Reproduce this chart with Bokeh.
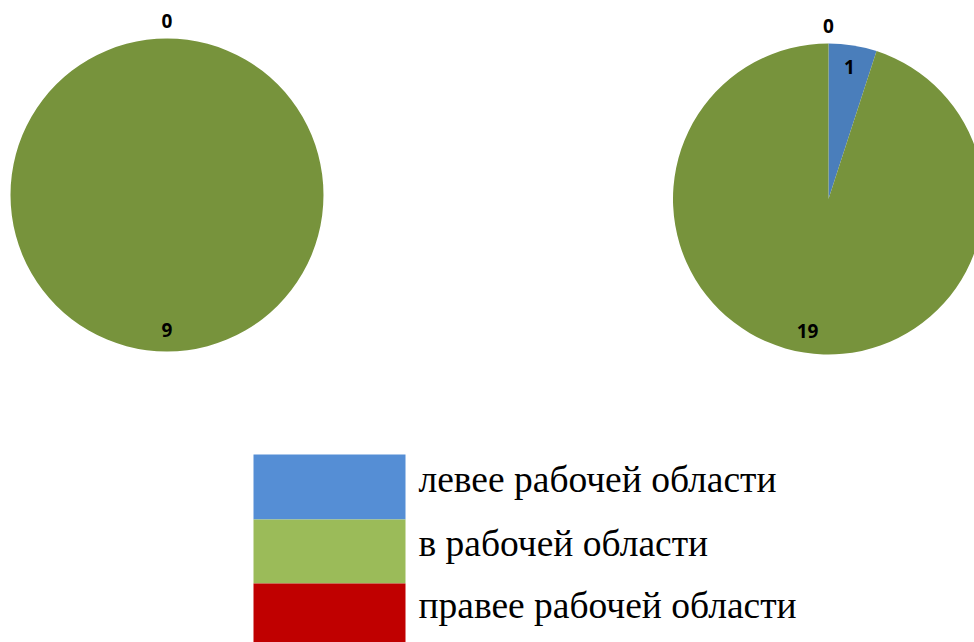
import math
from bokeh.plotting import figure
from bokeh.models import Range1d
from bokeh.core.properties import value
from bokeh.embed import file_html
from bokeh.resources import INLINE

# ---- data ----
categories = ["левее рабочей области", "в рабочей области", "правее рабочей области"]
pie_left_values = [0, 9, 0]
pie_right_values = [1, 19, 0]
pie_colors = ["#4A7EBB", "#77933C", "#C00000"]
legend_colors = ["#558ED5", "#9BBB59", "#C00000"]

W, H = 974, 642
p = figure(width=W, height=H, output_backend="svg", toolbar_location=None,
           x_range=Range1d(0, W), y_range=Range1d(0, H), min_border=0)
p.axis.visible = False
p.grid.visible = False
p.outline_line_color = None
p.background_fill_color = "white"
p.border_fill_color = "white"

def Y(py):
    return H - py

def draw_pie(vals, cx, cy, r):
    total = sum(vals)
    start = math.pi / 2
    labels = []
    seen = set()
    for v, c in zip(vals, pie_colors):
        frac = v / total
        sweep = frac * 2 * math.pi
        end = start - sweep
        if v > 0:
            e = end + (1e-4 if frac >= 1 else 0)
            p.wedge(x=[cx], y=[Y(cy)], radius=r, start_angle=[start], end_angle=[e],
                    direction="clock", fill_color=c, line_color=None)
        mid = start - sweep / 2
        rr = r * 0.86 if v > 0 else r + 18
        lx = cx + rr * math.cos(mid)
        ly = Y(cy) + rr * math.sin(mid)
        key = (round(lx), round(ly))
        if key not in seen:
            seen.add(key)
            labels.append((lx, ly, str(v)))
        start = end
    p.text(x=[l[0] for l in labels], y=[l[1] for l in labels], text=[l[2] for l in labels],
           text_font=value("Open Sans"), text_font_style="bold", text_font_size="19px",
           text_align="center", text_baseline="middle", text_color="black")

draw_pie(pie_left_values, 166.5, 194.5, 156.5)
draw_pie(pie_right_values, 828, 198.5, 155.5)

# ---- legend ----
row_tops = [454, 519, 583]
row_bots = [519, 583, 642]
p.quad(left=[253] * 3, right=[405] * 3, top=[Y(t) for t in row_tops],
       bottom=[Y(b) for b in row_bots], fill_color=legend_colors, line_color=None)
p.text(x=[418] * 3, y=[Y((t + b) / 2 - 8) for t, b in zip(row_tops, row_bots)], text=categories,
       text_font=value("Liberation Serif"), text_font_size="37.5px",
       text_align="left", text_baseline="middle", text_color="black")

open("out.html", "w").write(file_html(p, INLINE))
